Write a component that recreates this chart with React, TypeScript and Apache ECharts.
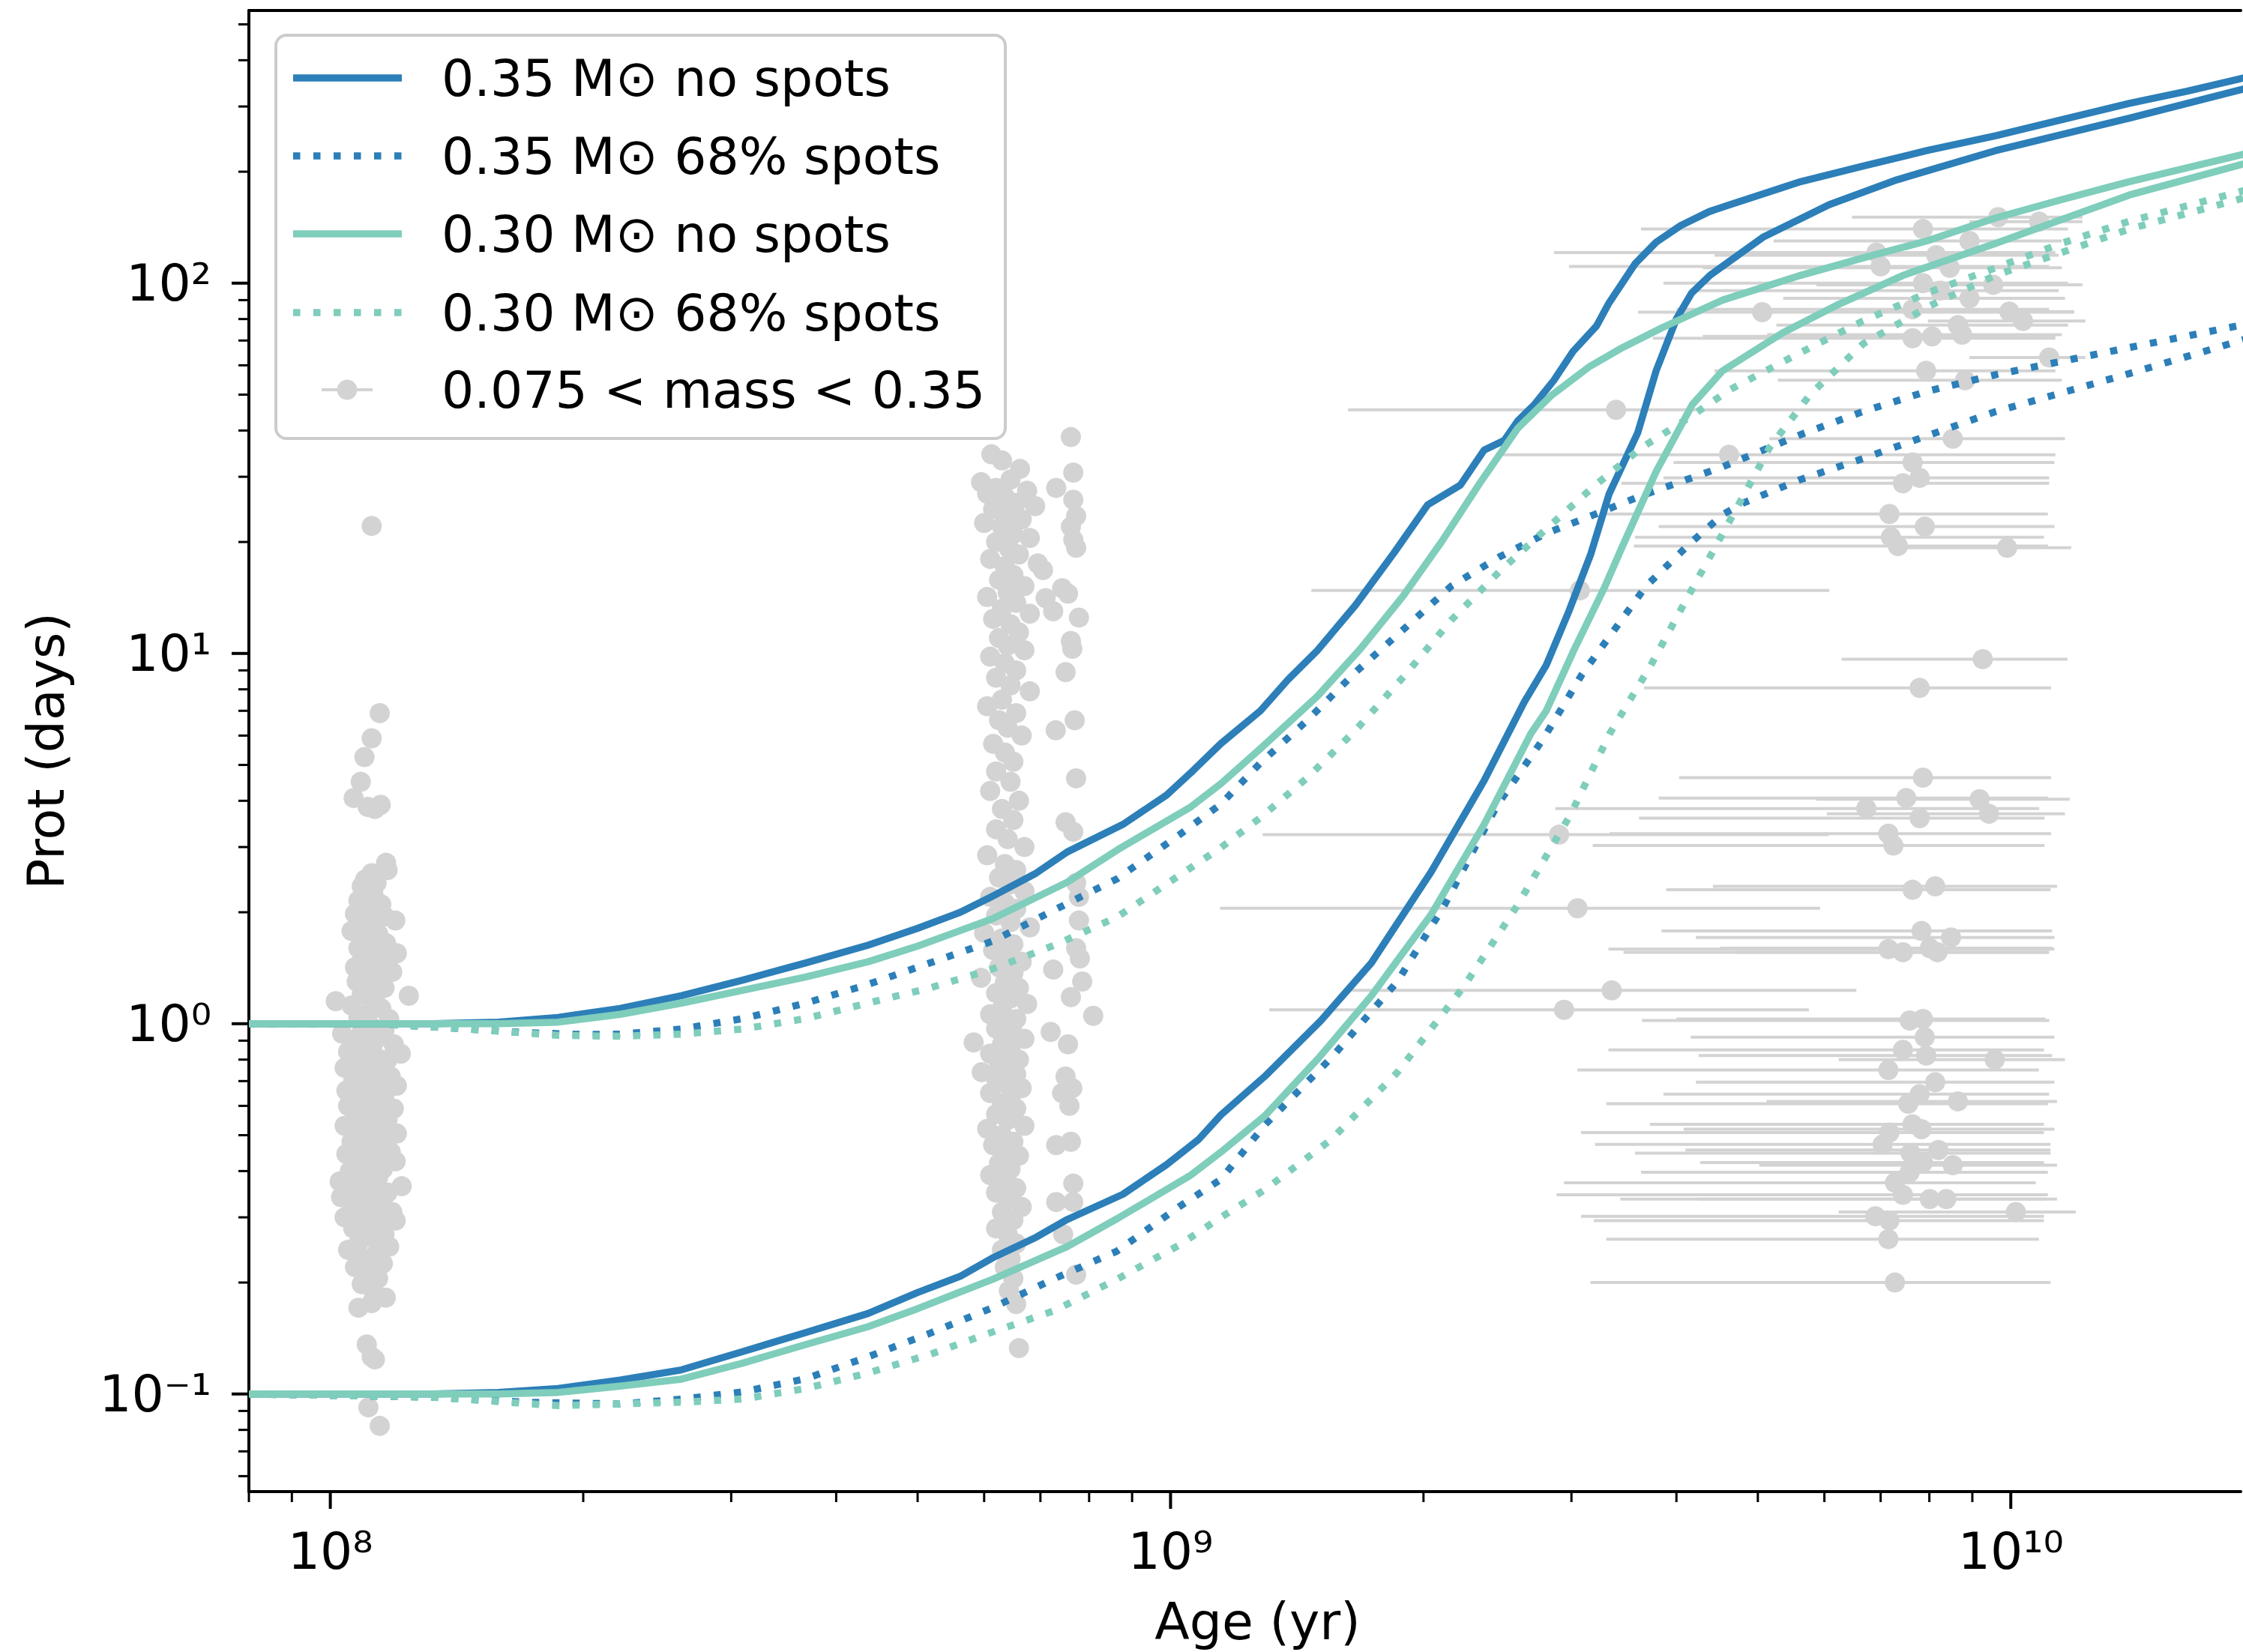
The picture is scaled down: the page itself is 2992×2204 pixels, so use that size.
import React, { useEffect, useRef } from "react";
import * as echarts from "echarts";

// ---------- axis ranges / ticks ----------
const X_MIN = 8e7;
const X_MAX = 1.878e10;
const Y_MIN = 0.0545;
const Y_MAX = 545;

const xMajorTicks = [1e8, 1e9, 1e10];
const xMinorTicks = [8e7, 9e7, 2e8, 3e8, 4e8, 5e8, 6e8, 7e8, 8e8, 9e8, 2e9, 3e9, 4e9, 5e9, 6e9, 7e9, 8e9, 9e9];
const yMajorTicks = [0.1, 1, 10, 100];
const yMinorTicks = [0.06, 0.07, 0.08, 0.09, 0.2, 0.3, 0.4, 0.5, 0.6, 0.7, 0.8, 0.9, 2, 3, 4, 5, 6, 7, 8, 9, 20, 30, 40, 50, 60, 70, 80, 90, 200, 300, 400, 500];

// ---------- legend labels ----------
const legendLabels = [
  "0.35 M⊙ no spots",
  "0.35 M⊙ 68% spots",
  "0.30 M⊙ no spots",
  "0.30 M⊙ 68% spots",
  "0.075 < mass < 0.35",
];

// ---------- model tracks [age (yr), Prot (days)] ----------
const m035NoSpotsP1 = [[8.0e7,1.0],[1.122e8,1.0],[1.327e8,1.0],[1.585e8,1.01],[1.866e8,1.04],[2.213e8,1.10],[2.618e8,1.19],[3.09e8,1.31],[3.681e8,1.46],[4.365e8,1.63],[5.0e8,1.81],[5.623e8,2.0],[6.138e8,2.21],[6.918e8,2.55],[7.534e8,2.91],[8.77e8,3.45],[9.886e8,4.14],[1.064e9,4.83],[1.148e9,5.71],[1.279e9,7.0],[1.38e9,8.5],[1.496e9,10.2],[1.66e9,13.5],[1.845e9,18.7],[2.023e9,25.2],[2.213e9,28.5],[2.361e9,35.4],[2.495e9,37.6],[2.588e9,42.4],[2.71e9,47],[2.858e9,54.6],[3.013e9,65.4],[3.214e9,76.7],[3.319e9,87.8],[3.573e9,113],[3.784e9,129],[4.046e9,143],[4.375e9,156],[4.634e9,163],[5.623e9,188],[6.668e9,207],[7.943e9,228],[9.594e9,250],[1.148e10,276],[1.384e10,306],[1.622e10,330],[1.879e10,357],[2.0e10,369]];
const m035NoSpotsP01 = [[8.0e7,0.1],[1.327e8,0.1],[1.585e8,0.101],[1.866e8,0.1035],[2.213e8,0.109],[2.618e8,0.1162],[3.09e8,0.130],[3.681e8,0.1466],[4.365e8,0.165],[5.0e8,0.188],[5.623e8,0.208],[6.138e8,0.233],[6.918e8,0.265],[7.534e8,0.296],[8.77e8,0.346],[9.886e8,0.416],[1.079e9,0.486],[1.148e9,0.567],[1.294e9,0.72],[1.51e9,1.02],[1.734e9,1.46],[2.042e9,2.57],[2.361e9,4.53],[2.636e9,7.39],[2.8e9,9.3],[2.979e9,13],[3.162e9,18.5],[3.327e9,27],[3.597e9,39.4],[3.784e9,58],[3.999e9,80],[4.169e9,94],[4.385e9,105],[5.07e9,133],[6.081e9,163],[7.311e9,190],[9.594e9,228],[1.384e10,279],[1.879e10,333],[2.0e10,345]];
const m035SpotsP1 = [[8.0e7,1.0],[1.122e8,1.0],[1.327e8,0.98],[1.71e8,0.946],[1.995e8,0.935],[2.208e8,0.937],[2.618e8,0.968],[3.105e8,1.033],[3.681e8,1.137],[4.365e8,1.277],[5.176e8,1.46],[6.138e8,1.67],[7.278e8,2.03],[8.63e8,2.46],[1.023e9,3.23],[1.148e9,3.92],[1.279e9,5.06],[1.455e9,6.6],[1.66e9,8.9],[1.892e9,11.6],[2.158e9,15.2],[2.46e9,18.2],[2.8e9,21.1],[3.192e9,23.7],[3.639e9,26.7],[4.539e9,31.9],[5.623e9,39],[6.668e9,45],[7.943e9,51],[9.594e9,56.6],[1.384e10,67],[1.879e10,77],[2.0e10,79]];
const m035SpotsP01 = [[8.0e7,0.1],[1.327e8,0.098],[1.71e8,0.095],[2.208e8,0.094],[2.618e8,0.0968],[3.105e8,0.1014],[3.681e8,0.11],[4.365e8,0.126],[5.176e8,0.146],[6.138e8,0.171],[7.278e8,0.205],[8.63e8,0.243],[1.023e9,0.32],[1.148e9,0.38],[1.294e9,0.532],[1.552e9,0.807],[1.862e9,1.30],[2.118e9,2.09],[2.449e9,3.9],[2.78e9,5.9],[3.09e9,8.8],[3.319e9,11],[3.681e9,15.2],[4.15e9,19.8],[4.539e9,23.7],[4.808e9,25.5],[5.623e9,29.5],[6.668e9,33.6],[9.594e9,45],[1.384e10,57],[1.879e10,70],[2.0e10,73]];
const m030NoSpotsP1 = [[8.0e7,1.0],[1.585e8,1.0],[1.866e8,1.01],[2.213e8,1.06],[2.618e8,1.137],[3.09e8,1.23],[3.681e8,1.337],[4.365e8,1.47],[5.0e8,1.62],[6.138e8,1.92],[7.534e8,2.41],[8.65e8,2.95],[1.057e9,3.85],[1.148e9,4.45],[1.279e9,5.53],[1.496e9,7.67],[1.683e9,10.3],[1.892e9,14.3],[2.104e9,20.1],[2.333e9,28.8],[2.588e9,40.5],[2.844e9,49.9],[3.155e9,59.6],[3.451e9,67],[3.837e9,75.6],[4.539e9,90],[5.623e9,105],[6.668e9,117],[7.943e9,130],[9.594e9,150],[1.148e10,168],[1.384e10,188],[1.879e10,222],[2.0e10,230]];
const m030NoSpotsP01 = [[8.0e7,0.1],[1.585e8,0.1],[1.866e8,0.101],[2.213e8,0.105],[2.618e8,0.1097],[3.09e8,0.121],[3.681e8,0.136],[4.365e8,0.152],[5.0e8,0.17],[6.138e8,0.204],[7.534e8,0.25],[8.65e8,0.298],[1.057e9,0.39],[1.148e9,0.45],[1.294e9,0.563],[1.5e9,0.807],[1.734e9,1.19],[2.042e9,1.97],[2.361e9,3.45],[2.685e9,6.08],[2.8e9,7.0],[3.02e9,10.2],[3.281e9,15],[3.451e9,19.5],[3.784e9,31],[4.178e9,47],[4.539e9,58],[5.358e9,73.5],[6.194e9,87],[7.447e9,105],[9.594e9,128],[1.384e10,173],[1.879e10,209],[2.0e10,217]];
const m030SpotsP1 = [[8.0e7,1.0],[1.122e8,1.0],[1.327e8,0.98],[1.585e8,0.955],[1.866e8,0.93],[2.213e8,0.925],[2.618e8,0.937],[3.105e8,0.968],[3.681e8,1.033],[4.365e8,1.137],[5.176e8,1.25],[6.138e8,1.405],[7.278e8,1.63],[8.63e8,1.94],[1.023e9,2.51],[1.148e9,2.99],[1.279e9,3.6],[1.455e9,4.62],[1.66e9,6.2],[1.892e9,8.63],[2.158e9,12.3],[2.46e9,16.6],[2.8e9,21.7],[3.192e9,28.3],[3.639e9,36],[4.15e9,43.5],[4.634e9,51.6],[5.623e9,65],[6.668e9,79],[7.943e9,94],[9.594e9,110],[1.148e10,128],[1.384e10,147],[1.879e10,177],[2.0e10,184]];
const m030SpotsP01 = [[8.0e7,0.1],[1.327e8,0.098],[1.866e8,0.093],[2.618e8,0.095],[3.105e8,0.097],[3.681e8,0.1035],[4.365e8,0.114],[5.176e8,0.128],[6.138e8,0.147],[7.278e8,0.168],[8.63e8,0.204],[1.023e9,0.252],[1.148e9,0.30],[1.294e9,0.356],[1.552e9,0.486],[1.862e9,0.739],[2.234e9,1.26],[2.588e9,2.09],[2.992e9,3.67],[3.334e9,6.09],[3.724e9,9.24],[4.111e9,14],[4.634e9,22.9],[5.164e9,36],[5.768e9,50],[6.668e9,68.5],[8.017e9,87],[9.594e9,105],[1.384e10,140],[1.879e10,169],[2.0e10,176]];

// ---------- young cluster (~110 Myr) [age, Prot] ----------
const cluster110 = [[1.12e8,22.1],[1.145e8,6.9],[1.12e8,5.9],[1.098e8,5.25],[1.087e8,4.5],[1.066e8,4.07],[1.108e8,3.85],[1.148e8,3.9],[1.13e8,3.8],
[1.165e8,2.72],[1.17e8,2.6],[1.12e8,2.55],[1.1e8,2.45],[1.09e8,2.35],[1.135e8,2.4],[1.125e8,2.25],[1.08e8,2.15],[1.15e8,2.1],[1.105e8,2.05],[1.07e8,1.98],[1.195e8,1.9],[1.16e8,1.95],[1.12e8,1.88],[1.085e8,1.82],[1.06e8,1.78],[1.14e8,1.75],[1.1e8,1.7],[1.165e8,1.65],[1.08e8,1.6],[1.13e8,1.58],[1.2e8,1.55],[1.155e8,1.5],[1.09e8,1.48],[1.07e8,1.42],[1.12e8,1.4],[1.185e8,1.38],[1.14e8,1.33],[1.075e8,1.3],[1.1e8,1.27],[1.16e8,1.25],[1.09e8,1.2],[1.24e8,1.19],[1.13e8,1.17],[1.015e8,1.15],[1.06e8,1.12],[1.15e8,1.1],[1.11e8,1.07],[1.08e8,1.04],[1.175e8,1.03],
[1.033e8,0.94],[1.12e8,0.98],[1.09e8,0.95],[1.16e8,0.96],[1.14e8,0.92],[1.07e8,0.9],[1.19e8,0.88],[1.1e8,0.87],[1.213e8,0.83],[1.05e8,0.84],[1.13e8,0.82],[1.17e8,0.8],[1.08e8,0.79],[1.115e8,0.77],[1.04e8,0.76],[1.155e8,0.75],[1.095e8,0.73],[1.18e8,0.72],[1.065e8,0.7],[1.13e8,0.69],[1.2e8,0.68],[1.045e8,0.66],[1.105e8,0.65],[1.16e8,0.64],[1.085e8,0.62],[1.14e8,0.61],[1.05e8,0.6],[1.19e8,0.59],[1.12e8,0.58],[1.07e8,0.56],[1.17e8,0.55],[1.1e8,0.54],[1.04e8,0.53],[1.145e8,0.52],[1.08e8,0.51],[1.2e8,0.505],[1.125e8,0.49],[1.06e8,0.48],[1.16e8,0.47],[1.095e8,0.46],[1.18e8,0.45],[1.045e8,0.445],[1.135e8,0.44],[1.075e8,0.43],[1.196e8,0.425],[1.11e8,0.415],[1.155e8,0.405],[1.055e8,0.4],[1.09e8,0.39],[1.14e8,0.385],[1.026e8,0.375],[1.12e8,0.37],[1.216e8,0.364],[1.075e8,0.36],[1.17e8,0.35],[1.1e8,0.345],[1.03e8,0.34],[1.15e8,0.335],[1.06e8,0.33],[1.125e8,0.32],[1.185e8,0.31],[1.085e8,0.305],[1.04e8,0.3],[1.14e8,0.295],[1.196e8,0.294],[1.1e8,0.285],[1.065e8,0.28],[1.16e8,0.27],[1.12e8,0.265],[1.08e8,0.255],[1.175e8,0.25],[1.05e8,0.245],[1.135e8,0.24],[1.095e8,0.232],[1.155e8,0.225],[1.07e8,0.22],[1.115e8,0.212],[1.14e8,0.205],[1.09e8,0.198],[1.125e8,0.19],[1.164e8,0.182],[1.08e8,0.171],[1.12e8,0.176],[1.105e8,0.136],[1.12e8,0.126],[1.13e8,0.124],[1.11e8,0.092],[1.145e8,0.082],
[1.1e8,0.62],[1.125e8,0.7],[1.09e8,0.58],[1.135e8,0.5],[1.11e8,0.44],[1.1e8,0.76],[1.13e8,0.9],[1.105e8,0.33],[1.115e8,0.28],[1.07e8,0.64],[1.15e8,0.68],[1.095e8,0.86],[1.14e8,0.55],[1.085e8,0.4],[1.125e8,0.42]];

// ---------- older cluster (~650 Myr) [age, Prot] ----------
const cluster650 = [[6.12e8,34.5],[6.3e8,33.2],[6.62e8,31.5],[5.95e8,29],[6.45e8,29.5],[6.2e8,28],[6.05e8,27],[6.75e8,27.5],[6.35e8,26.5],[6.55e8,25.5],[6.9e8,25],[6.15e8,24.5],[6.4e8,23.5],[6.65e8,23],[6.0e8,22.5],[6.3e8,22],[6.5e8,21],[6.8e8,20.5],[6.2e8,20],[6.42e8,19.2],[6.6e8,18.5],[6.1e8,18],[6.35e8,17.2],[6.95e8,17.5],[7.05e8,16.8],[6.5e8,16.3],[6.25e8,15.8],[6.7e8,15.2],[6.4e8,14.6],[6.05e8,14.2],[6.55e8,13.7],[6.3e8,13.2],[6.8e8,12.8],[6.15e8,12.4],[6.45e8,12],[6.6e8,11.4],[6.25e8,11],[6.4e8,10.5],[6.7e8,10.2],[6.1e8,9.8],[6.35e8,9.4],[6.55e8,9],[6.2e8,8.6],[6.45e8,8.2],[6.8e8,7.9],[6.3e8,7.5],[6.05e8,7.2],[6.55e8,6.9],[6.25e8,6.6],[6.4e8,6.3],[6.65e8,6.0],[6.15e8,5.7],[6.35e8,5.4],[6.5e8,5.1],[6.2e8,4.8],[6.45e8,4.5],[6.1e8,4.25],[6.6e8,4.0],[6.3e8,3.8],[6.5e8,3.55],[6.2e8,3.35],[6.4e8,3.15],[6.7e8,3.0],[6.05e8,2.85],[6.35e8,2.7],[6.55e8,2.6],[6.25e8,2.48],[6.45e8,2.38],[6.7e8,2.28],[6.1e8,2.2],[6.35e8,2.12],[6.55e8,2.04],[6.2e8,1.96],[6.45e8,1.88],[6.8e8,1.82],[6.0e8,1.76],[6.3e8,1.7],[6.5e8,1.64],[6.15e8,1.58],[6.4e8,1.52],[6.65e8,1.47],[6.25e8,1.42],[6.5e8,1.37],[5.95e8,1.33],[6.35e8,1.29],[6.6e8,1.25],[6.2e8,1.21],[6.45e8,1.17],[6.75e8,1.13],[6.3e8,1.1],[6.1e8,1.06],[6.55e8,1.03],[6.35e8,1.0],[6.2e8,0.97],[6.5e8,0.94],[6.7e8,0.91],[5.83e8,0.89],[6.3e8,0.88],[6.45e8,0.85],[6.1e8,0.83],[6.6e8,0.8],[6.25e8,0.78],[5.96e8,0.74],[6.4e8,0.76],[6.55e8,0.73],[6.2e8,0.71],[6.35e8,0.69],[6.65e8,0.67],[6.1e8,0.65],[6.45e8,0.63],[6.3e8,0.61],[6.55e8,0.59],[6.2e8,0.57],[6.4e8,0.55],[6.7e8,0.53],[6.05e8,0.52],[6.3e8,0.5],[6.5e8,0.48],[6.15e8,0.47],[6.4e8,0.45],[6.6e8,0.44],[6.25e8,0.42],[6.45e8,0.405],[6.1e8,0.39],[6.35e8,0.375],[6.55e8,0.36],[6.2e8,0.35],[6.4e8,0.335],[6.65e8,0.32],[6.3e8,0.31],[6.5e8,0.295],[6.2e8,0.28],[6.4e8,0.27],[6.55e8,0.255],[6.3e8,0.245],[6.45e8,0.232],[6.35e8,0.22],[6.5e8,0.205],[6.42e8,0.19],[6.55e8,0.175],[6.6e8,0.133],
[7.61e8,38.4],[7.66e8,30.8],[7.31e8,28],[7.66e8,26],[7.72e8,23.5],[7.61e8,22],[7.66e8,20.3],[7.72e8,19.3],[7.43e8,15],[7.55e8,14.5],[7.1e8,14.1],[7.25e8,13],[7.78e8,12.5],[7.61e8,10.8],[7.64e8,10.3],[7.5e8,8.9],[7.69e8,6.6],[7.3e8,6.2],[7.72e8,4.6],[7.5e8,3.5],[7.66e8,3.3],[7.72e8,2.4],[7.78e8,2.2],[7.78e8,1.9],[7.72e8,1.6],[7.8e8,1.5],[7.25e8,1.4],[7.85e8,1.3],[7.61e8,1.18],[8.09e8,1.05],[7.2e8,0.95],[7.55e8,0.88],[7.5e8,0.72],[7.64e8,0.67],[7.43e8,0.65],[7.58e8,0.6],[7.31e8,0.47],[7.61e8,0.48],[7.66e8,0.37],[7.31e8,0.33],[7.66e8,0.33],[7.45e8,0.27],[7.72e8,0.21]];

// ---------- field stars [age, Prot, ageLow, ageHigh] ----------
const fieldStars = [
[9.66e9,150.7,6.47e9,1.217e10],[1.081e10,146.6,8.93e9,1.217e10],[7.86e9,140,3.63e9,1.17e10],[8.93e9,130,5.22e9,1.15e10],[6.92e9,121,2.86e9,1.13e10],[8.15e9,119,4.44e9,1.14e10],[7.0e9,111,2.98e9,1.111e10],[8.46e9,110,4.3e9,1.15e10],[7.86e9,100,3.86e9,1.17e10],[9.53e9,99,5.87e9,1.217e10],[8.24e9,95.5,4.15e9,1.14e10],[8.93e9,91,5.36e9,1.16e10],[5.06e9,83.5,3.6e9,1.19e10],[7.64e9,85,4.0e9,1.111e10],[9.96e9,83.8,6.65e9,1.19e10],[1.034e10,79,7.97e9,1.227e10],[8.65e9,77,5.26e9,1.17e10],[7.64e9,71,3.75e9,1.13e10],[8.06e9,71.8,4.3e9,1.13e10],[8.75e9,72.6,5.13e9,1.15e10],[1.111e10,63,8.93e9,1.227e10],[7.93e9,58,4.44e9,1.13e10],[8.82e9,54.7,5.28e9,1.15e10],[3.39e9,45.5,1.626e9,6.66e9],[8.53e9,38,5.16e9,1.16e10],[4.62e9,34.4,2.47e9,1.13e10],[7.64e9,32.8,3.97e9,1.127e10],[7.79e9,29.8,3.86e9,1.111e10],[7.44e9,28.8,3.44e9,1.111e10],[7.17e9,23.8,3.28e9,1.107e10],[7.9e9,22,3.81e9,1.127e10],[7.2e9,20.6,3.57e9,1.095e10],[7.34e9,19.5,3.56e9,1.107e10],[9.9e9,19.3,7.28e9,1.18e10],[3.07e9,14.8,1.471e9,6.08e9],
[9.26e9,9.65,6.29e9,1.168e10],[7.79e9,8.07,3.66e9,1.117e10],[7.86e9,4.62,4.03e9,1.117e10],[7.51e9,4.07,3.81e9,1.107e10],[9.18e9,4.04,5.87e9,1.175e10],[6.73e9,3.81,2.87e9,1.081e10],[9.42e9,3.69,6.04e9,1.16e10],[7.79e9,3.59,3.61e9,1.097e10],[2.9e9,3.24,1.287e9,6.07e9],[7.15e9,3.26,3.33e9,1.117e10],[7.25e9,3.03,3.18e9,1.097e10],[8.13e9,2.35,4.42e9,1.135e10],[7.64e9,2.3,3.89e9,1.115e10],[3.05e9,2.05,1.145e9,5.93e9],[7.83e9,1.78,3.84e9,1.12e10],[8.49e9,1.71,4.22e9,1.127e10],[7.15e9,1.59,3.32e9,1.127e10],[7.44e9,1.56,3.46e9,1.107e10],[8.01e9,1.6,4.51e9,1.12e10],[8.18e9,1.56,4.7e9,1.111e10],[3.35e9,1.23,1.626e9,6.55e9],[2.94e9,1.09,1.311e9,5.75e9],[7.58e9,1.02,3.64e9,1.111e10],[7.86e9,1.03,4.0e9,1.1e10],[7.9e9,0.92,4.16e9,1.127e10],[7.44e9,0.85,3.32e9,1.095e10],[7.93e9,0.82,4.25e9,1.12e10],[9.57e9,0.8,6.24e9,1.16e10],[7.15e9,0.75,3.05e9,1.08e10],[8.13e9,0.695,4.22e9,1.127e10],[7.79e9,0.645,3.86e9,1.111e10],[8.65e9,0.617,5.12e9,1.135e10],[7.55e9,0.608,3.3e9,1.107e10],[7.64e9,0.535,3.72e9,1.095e10],[7.83e9,0.519,4.08e9,1.127e10],[7.17e9,0.508,3.08e9,1.095e10],[7.04e9,0.472,3.2e9,1.115e10],[7.6e9,0.447,3.57e9,1.115e10],[8.2e9,0.456,4.1e9,1.115e10],[7.86e9,0.422,4.27e9,1.095e10],[8.53e9,0.415,5.02e9,1.135e10],[7.58e9,0.397,3.63e9,1.107e10],[7.28e9,0.372,2.94e9,1.071e10],[7.44e9,0.345,2.88e9,1.107e10],[8.01e9,0.336,4.25e9,1.135e10],[8.38e9,0.336,3.43e9,1.1e10],[1.014e10,0.31,6.24e9,1.195e10],[6.9e9,0.302,3.08e9,1.095e10],[7.17e9,0.294,3.19e9,1.095e10],[7.15e9,0.262,3.3e9,1.08e10],[7.28e9,0.2,3.16e9,1.115e10]];

// ---------- styling ----------
const BLUE = "#2c7fb8";
const TEAL = "#7fcdbb";
const GRAY = "#d3d3d3";
const FONT = "DejaVu Sans";
const FS = 68;
const LW = 9.5;
const DOT: number[] = [9.5, 17.5];

const SUP: Record<string, string> = { "0": "⁰", "1": "¹", "2": "²", "3": "³", "4": "⁴", "5": "⁵", "6": "⁶", "7": "⁷", "8": "⁸", "9": "⁹", "-": "⁻" };
function powLabel(v: number): string {
  const l = Math.log10(v);
  const e = Math.round(l);
  if (Math.abs(l - e) > 1e-6) return "";
  return "10" + String(e).split("").map((c) => SUP[c]).join("");
}

function track(data: number[][], color: string, dotted: boolean, name: string) {
  return {
    type: "line",
    name,
    data,
    xAxisIndex: 0,
    yAxisIndex: 0,
    symbol: "none",
    showSymbol: false,
    smooth: false,
    silent: true,
    clip: true,
    lineStyle: { color, width: LW, type: dotted ? DOT : "solid", cap: "butt", join: "round" },
    z: 3,
  };
}

function buildOption() {
  const tickData: number[][] = [
    ...xMajorTicks.map((v) => [v, Y_MIN, 0]),
    ...xMinorTicks.map((v) => [v, Y_MIN, 1]),
    ...yMajorTicks.map((v) => [X_MIN, v, 2]),
    ...yMinorTicks.map((v) => [X_MIN, v, 3]),
  ];

  const legendY = [104, 208, 312, 417, 520];
  const legendStyles = [
    { color: BLUE, dotted: false },
    { color: BLUE, dotted: true },
    { color: TEAL, dotted: false },
    { color: TEAL, dotted: true },
  ];
  const graphics: any[] = [
    {
      type: "rect",
      shape: { x: 368, y: 47, width: 973, height: 538, r: 14 },
      style: { fill: "rgba(255,255,255,0.8)", stroke: "#cccccc", lineWidth: 4 },
      z: 100,
    },
  ];
  legendStyles.forEach((s, i) => {
    graphics.push({
      type: "line",
      shape: { x1: 391, y1: legendY[i], x2: 536, y2: legendY[i] },
      style: { stroke: s.color, lineWidth: LW, lineDash: s.dotted ? DOT : null, lineCap: "butt" },
      z: 101,
    });
  });
  graphics.push({
    type: "line",
    shape: { x1: 429, y1: legendY[4], x2: 497, y2: legendY[4] },
    style: { stroke: GRAY, lineWidth: 4 },
    z: 101,
  });
  graphics.push({
    type: "circle",
    shape: { cx: 463, cy: legendY[4], r: 13.5 },
    style: { fill: GRAY },
    z: 102,
  });
  legendLabels.forEach((t, i) => {
    graphics.push({
      type: "text",
      x: 589,
      y: legendY[i],
      style: { text: t, fontSize: FS, fontFamily: FONT, fill: "#000", verticalAlign: "middle", align: "left" },
      z: 103,
    });
  });

  return {
    animation: false,
    backgroundColor: "#ffffff",
    grid: { left: 332, top: 14, right: 0, bottom: 214, containLabel: false },
    xAxis: [
      {
        type: "log",
        logBase: 10,
        min: X_MIN,
        max: X_MAX,
        position: "bottom",
        name: "Age (yr)",
        nameLocation: "middle",
        nameGap: 139,
        nameTextStyle: { fontSize: FS, fontFamily: FONT, color: "#000", padding: [0, 0, 0, 34] },
        axisLine: { show: true, lineStyle: { color: "#000", width: 4 } },
        axisTick: { show: false },
        splitLine: { show: false },
        minorTick: { show: false },
        axisLabel: { show: true, formatter: powLabel, fontSize: FS, fontFamily: FONT, color: "#000", margin: 45 },
      },
      {
        type: "log",
        logBase: 10,
        min: X_MIN,
        max: X_MAX,
        position: "top",
        axisLine: { show: true, lineStyle: { color: "#000", width: 4 } },
        axisTick: { show: false },
        axisLabel: { show: false },
        splitLine: { show: false },
      },
    ],
    yAxis: [
      {
        type: "log",
        logBase: 10,
        min: Y_MIN,
        max: Y_MAX,
        position: "left",
        name: "Prot (days)",
        nameLocation: "middle",
        nameGap: 237,
        nameRotate: 90,
        nameTextStyle: { fontSize: FS, fontFamily: FONT, color: "#000" },
        axisLine: { show: true, lineStyle: { color: "#000", width: 4 } },
        axisTick: { show: false },
        splitLine: { show: false },
        axisLabel: { show: true, formatter: powLabel, fontSize: FS, fontFamily: FONT, color: "#000", margin: 50 },
      },
    ],
    graphic: graphics,
    series: [
      {
        type: "custom",
        name: "field",
        xAxisIndex: 0,
        yAxisIndex: 0,
        data: fieldStars,
        encode: { x: 0, y: 1 },
        silent: true,
        z: 2,
        renderItem: (params: any, api: any) => {
          const c = api.coord([api.value(0), api.value(1)]);
          const lo = api.coord([api.value(2), api.value(1)]);
          const hi = api.coord([api.value(3), api.value(1)]);
          return {
            type: "group",
            children: [
              { type: "line", shape: { x1: lo[0], y1: c[1], x2: hi[0], y2: c[1] }, style: { stroke: GRAY, lineWidth: 4 } },
              { type: "circle", shape: { cx: c[0], cy: c[1], r: 13.5 }, style: { fill: GRAY } },
            ],
          };
        },
      },
      {
        type: "scatter",
        name: "cluster110",
        data: cluster110,
        symbol: "circle",
        symbolSize: 27,
        itemStyle: { color: GRAY, opacity: 1 },
        silent: true,
        z: 2,
      },
      {
        type: "scatter",
        name: "cluster650",
        data: cluster650,
        symbol: "circle",
        symbolSize: 27,
        itemStyle: { color: GRAY, opacity: 1 },
        silent: true,
        z: 2,
      },
      track(m035NoSpotsP1, BLUE, false, "0.35 no spots a"),
      track(m035NoSpotsP01, BLUE, false, "0.35 no spots b"),
      track(m035SpotsP1, BLUE, true, "0.35 spots a"),
      track(m035SpotsP01, BLUE, true, "0.35 spots b"),
      track(m030NoSpotsP1, TEAL, false, "0.30 no spots a"),
      track(m030NoSpotsP01, TEAL, false, "0.30 no spots b"),
      track(m030SpotsP1, TEAL, true, "0.30 spots a"),
      track(m030SpotsP01, TEAL, true, "0.30 spots b"),
      {
        type: "custom",
        name: "ticks",
        xAxisIndex: 0,
        yAxisIndex: 0,
        data: tickData,
        encode: { x: 0, y: 1 },
        silent: true,
        clip: false,
        z: 5,
        renderItem: (params: any, api: any) => {
          const kind = api.value(2);
          const p = api.coord([api.value(0), api.value(1)]);
          if (kind === 0 || kind === 1) {
            const len = kind === 0 ? 23 : 14;
            return { type: "line", shape: { x1: p[0], y1: p[1], x2: p[0], y2: p[1] + len }, style: { stroke: "#000", lineWidth: kind === 0 ? 4 : 3 } };
          }
          const len = kind === 2 ? 23 : 14;
          return { type: "line", shape: { x1: p[0], y1: p[1], x2: p[0] - len, y2: p[1] }, style: { stroke: "#000", lineWidth: kind === 2 ? 4 : 3 } };
        },
      },
    ],
  };
}

export default function App() {
  const ref = useRef<HTMLDivElement>(null);
  useEffect(() => {
    if (!ref.current) return;
    const chart = echarts.init(ref.current, null, { renderer: "svg" });
    chart.setOption(buildOption() as any);
    return () => chart.dispose();
  }, []);
  return (
    <div
      ref={ref}
      style={{ position: "absolute", left: 0, top: 0, width: 2992, height: 2204, background: "#fff", overflow: "hidden" }}
    />
  );
}
